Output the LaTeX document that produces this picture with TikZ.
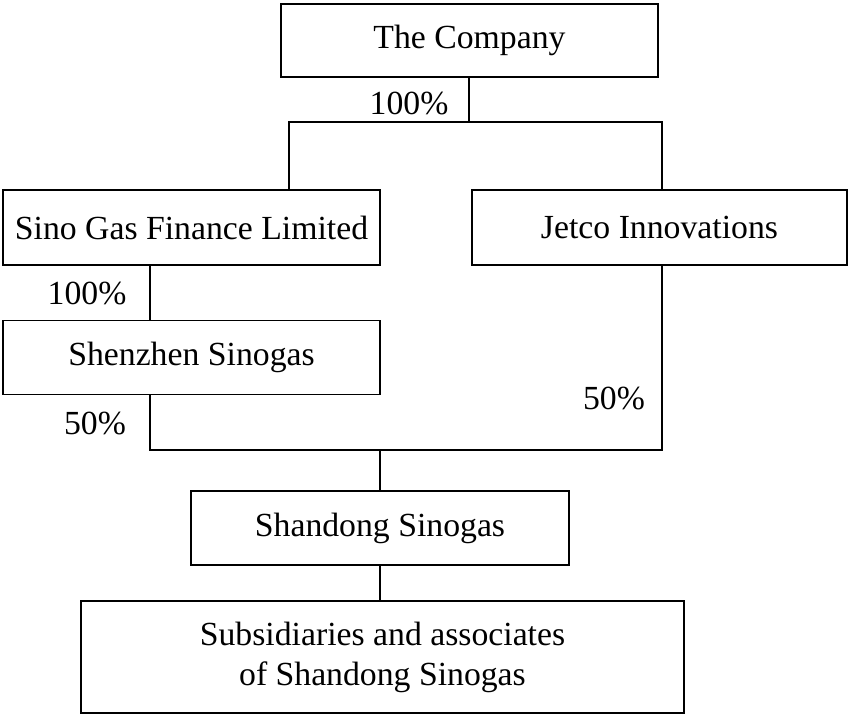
\documentclass[tikz,border=0pt]{standalone}
\usepackage{fontspec}
\setmainfont{Liberation Serif}
\usepackage{tikz}
\usetikzlibrary{positioning, calc}

\begin{document}
\begin{tikzpicture}[
				x=0.02cm, y=-0.02cm,
				font=\fontsize{19.2}{22.7}\selectfont,
				entity/.style={draw, rectangle, line width=0.8pt, inner sep=0pt, align=center},
				share/.style={inner sep=0pt},
				link/.style={line width=0.8pt}
				]
				\useasboundingbox (0,0) rectangle (848,714);
				
				% Entidades
				\node[entity, minimum width=377*0.02cm, minimum height=73*0.02cm] (company) at (469.5,40.5) {The Company};
				\node[entity, minimum width=377*0.02cm, minimum height=75*0.02cm] (sino) at (191.5,227.5) {Sino Gas Finance Limited};
				\node[entity, minimum width=375*0.02cm, minimum height=75*0.02cm] (jetco) at (659.5,227.5) {Jetco Innovations};
				\node[entity, minimum width=377*0.02cm, minimum height=74*0.02cm] (shenzhen) at (191.5,357.5) {Shenzhen Sinogas};
				\node[entity, minimum width=378*0.02cm, minimum height=74*0.02cm] (shandong) at (380,528) {Shandong Sinogas};
				\node[entity, minimum width=603*0.02cm, minimum height=112*0.02cm] (subs) at (382.5,657) {Subsidiaries and associates\\of Shandong Sinogas};
				
				% Puntos de union
				\coordinate (fork) at (469,122);
				\coordinate (join) at (380,450);
				
				% Conexiones
				\draw[link] (company.south -| fork) -- (fork);
				\draw[link] (sino.north -| 289,0) |- (fork) -| (jetco.north -| 662,0);
				\draw[link] (sino.south -| 150,0) -- (shenzhen.north -| 150,0);
				\draw[link] (shenzhen.south -| 150,0) |- (join) -| (jetco.south -| 662,0);
				\draw[link] (join) -- (shandong);
				\draw[link] (shandong) -- (shandong |- subs.north);
				
				% Porcentajes
				\node[share] (pcompany) at (409,103) {100\%};
				\node[share] (psino) at (87,293) {100\%};
				\node[share] (pshenzhen) at (95,423) {50\%};
				\node[share] (pjetco) at (614,398) {50\%};
				
			\end{tikzpicture}
\end{document}
